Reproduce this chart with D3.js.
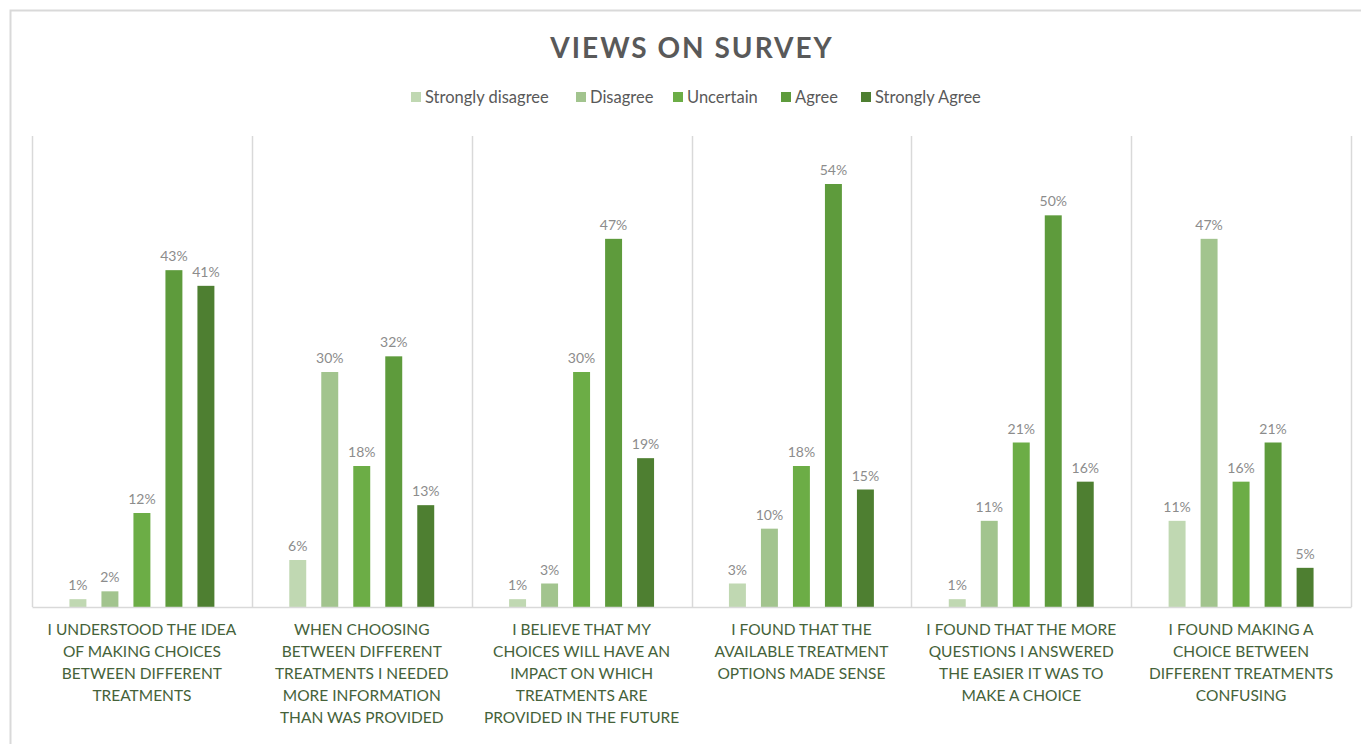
<!DOCTYPE html>
<html>
<head>
<meta charset="utf-8">
<script src="https://cdn.jsdelivr.net/npm/d3@7"></script>
<style>
  body { margin: 0; background: #fff; }
  text { font-family: Lato, "Open Sans", sans-serif; }
</style>
</head>
<body>
<div id="chart"></div>
<script>
// survey answers, percent
var questions = ["q1", "q2", "q3", "q4", "q5", "q6"];
var questionLines = [
  ["I UNDERSTOOD THE IDEA", "OF MAKING CHOICES", "BETWEEN DIFFERENT", "TREATMENTS"],
  ["WHEN CHOOSING", "BETWEEN DIFFERENT", "TREATMENTS I NEEDED", "MORE INFORMATION", "THAN WAS PROVIDED"],
  ["I BELIEVE THAT MY", "CHOICES WILL HAVE AN", "IMPACT ON WHICH", "TREATMENTS ARE", "PROVIDED IN THE FUTURE"],
  ["I FOUND THAT THE", "AVAILABLE TREATMENT", "OPTIONS MADE SENSE"],
  ["I FOUND THAT THE MORE", "QUESTIONS I ANSWERED", "THE EASIER IT WAS TO", "MAKE A CHOICE"],
  ["I FOUND MAKING A", "CHOICE BETWEEN", "DIFFERENT TREATMENTS", "CONFUSING"]
];
var answers = ["Strongly disagree", "Disagree", "Uncertain", "Agree", "Strongly Agree"];
var stronglyDisagree = [1, 6, 1, 3, 1, 11];
var disagree = [2, 30, 3, 10, 11, 47];
var uncertain = [12, 18, 30, 18, 21, 16];
var agree = [43, 32, 47, 54, 50, 21];
var stronglyAgree = [41, 13, 19, 15, 16, 5];
var colors = ["#c0d8b2", "#a2c48e", "#6cad46", "#5e9b3c", "#4e7f31"];

var series = [stronglyDisagree, disagree, uncertain, agree, stronglyAgree];

var max = { x: 1361, y: 744 };
var svg = d3.select("#chart").append("svg")
  .attr("width", max.x)
  .attr("height", max.y);

// outer frame of the chart area
svg.append("rect")
  .attr("x", 10.5).attr("y", 10.5)
  .attr("width", 1400).attr("height", 800)
  .attr("fill", "#fff")
  .attr("stroke", "#d9d9d9")
  .attr("stroke-width", 2);

svg.append("text")
  .attr("x", 692).attr("y", 58)
  .attr("text-anchor", "middle")
  .attr("font-size", 28)
  .attr("font-weight", "bold")
  .attr("letter-spacing", 2)
  .attr("fill", "#595959")
  .text("VIEWS ON SURVEY");

// legend
var legendX = [411, 576, 673, 781, 861];
var legend = svg.append("g").selectAll("g").data(answers).enter().append("g")
  .attr("transform", function(d, i) { return "translate(" + legendX[i] + ",97)"; });
legend.append("rect")
  .attr("x", 0).attr("y", -5)
  .attr("width", 10).attr("height", 10)
  .attr("fill", function(d, i) { return colors[i]; });
legend.append("text")
  .attr("x", 14).attr("y", 6)
  .attr("font-size", 16.5)
  .attr("fill", "#595959")
  .text(function(d) { return d; });

var xScale = d3.scaleBand()
  .domain(questions)
  .range([32, 1351]);

var inner = d3.scaleBand()
  .domain(d3.range(answers.length))
  .range([0, xScale.bandwidth()])
  .paddingInner(0.47)
  .paddingOuter(1.17);

var yScale = d3.scaleLinear()
  .domain([0, 60])
  .range([607, 137]);

// vertical separators between categories
svg.append("g").selectAll("line")
  .data(d3.range(questions.length + 1))
  .enter().append("line")
  .attr("x1", function(i) { return Math.round(32 + i * xScale.step()) + 0.5; })
  .attr("x2", function(i) { return Math.round(32 + i * xScale.step()) + 0.5; })
  .attr("y1", 136).attr("y2", 607)
  .attr("stroke", "#d9d9d9")
  .attr("stroke-width", 1.5);

var groups = svg.append("g").selectAll("g")
  .data(questions).enter().append("g")
  .attr("transform", function(d) { return "translate(" + xScale(d) + ",0)"; });

groups.selectAll("rect")
  .data(function(d, qi) { return series.map(function(s, si) { return { si: si, v: s[qi] }; }); })
  .enter().append("rect")
  .attr("x", function(d) { return inner(d.si); })
  .attr("width", inner.bandwidth())
  .attr("y", function(d) { return yScale(d.v); })
  .attr("height", function(d) { return yScale(0) - yScale(d.v); })
  .attr("fill", function(d) { return colors[d.si]; });

groups.selectAll("text.val")
  .data(function(d, qi) { return series.map(function(s, si) { return { si: si, v: s[qi] }; }); })
  .enter().append("text")
  .attr("class", "val")
  .attr("x", function(d) { return inner(d.si) + inner.bandwidth() / 2; })
  .attr("y", function(d) { return yScale(d.v) - 9; })
  .attr("text-anchor", "middle")
  .attr("font-size", 14)
  .attr("fill", "#8c8c8c")
  .text(function(d) { return d.v + "%"; });

// category axis
var axis = svg.append("g")
  .attr("transform", "translate(0,607)")
  .call(d3.axisBottom(xScale).tickSize(0).tickFormat(""));
axis.select(".domain").attr("stroke", "#d9d9d9").attr("stroke-width", 1.5);

axis.selectAll(".tick text").remove();
axis.selectAll(".tick").append("text")
  .attr("text-anchor", "middle")
  .attr("font-size", 15.5)
  .attr("fill", "#456239")
  .each(function(d, i) {
    var t = d3.select(this);
    questionLines[i].forEach(function(line, li) {
      t.append("tspan").attr("x", 0).attr("y", 28 + li * 22).text(line);
    });
  });
</script>
</body>
</html>
